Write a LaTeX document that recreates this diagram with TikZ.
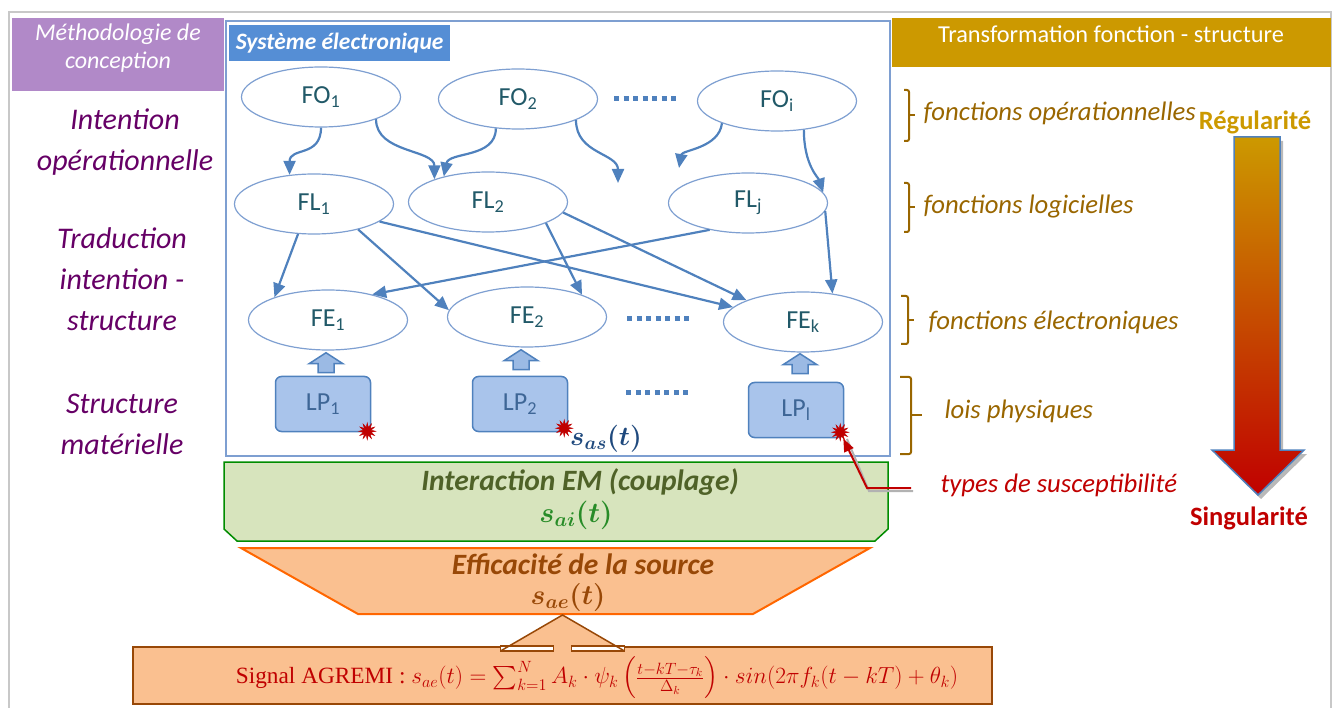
\documentclass[tikz,border=0pt]{standalone}
\usepackage{fix-cm}
\usepackage{amsmath,amssymb,bm}
\usepackage{fontspec}
\setmainfont{Carlito}
\newfontfamily\formfont{Liberation Serif}
\usetikzlibrary{arrows.meta,positioning,calc,shapes.geometric}

\definecolor{purplebox}{RGB}{177,137,200}
\definecolor{intentcol}{RGB}{102,0,102}
\definecolor{sysblue}{RGB}{85,142,213}
\definecolor{ellline}{RGB}{126,159,209}
\definecolor{elltext}{RGB}{33,89,104}
\definecolor{arrblue}{RGB}{79,129,189}
\definecolor{lpfill}{RGB}{169,196,235}
\definecolor{lptext}{RGB}{62,102,150}
\definecolor{goldhead}{RGB}{204,153,0}
\definecolor{fctcol}{RGB}{153,102,0}
\definecolor{singred}{RGB}{192,0,0}
\definecolor{greenfill}{RGB}{215,228,189}
\definecolor{greenline}{RGB}{0,140,0}
\definecolor{greentext}{RGB}{79,98,40}
\definecolor{saigreen}{RGB}{40,140,40}
\definecolor{srcfill}{RGB}{250,192,144}
\definecolor{srcline}{RGB}{255,102,0}
\definecolor{srctext}{RGB}{152,72,7}
\definecolor{sasblue}{RGB}{31,73,125}
\definecolor{framegray}{RGB}{200,200,200}

\begin{document}
\begin{tikzpicture}[x=1pt, y=-1pt,
  fct/.style={ellipse, draw=ellline, line width=1.2pt, minimum width=159pt, minimum height=60pt, inner sep=0pt, text=elltext, font=\fontsize{26}{30}\selectfont},
  lp/.style={draw=arrblue, line width=1.5pt, fill=lpfill, rounded corners=6pt, minimum width=95pt, minimum height=55pt, text=lptext, font=\fontsize{26}{30}\selectfont},
  burst/.style={star, star points=12, star point ratio=2.1, fill=singred, draw=singred, minimum size=17pt, inner sep=0pt},
  arrow/.style={-{Triangle[length=14pt, width=12pt]}, line width=2.2pt, arrblue},
  dots/.style={arrblue, line width=5pt, dash pattern=on 5pt off 4.5pt},
  intent/.style={align=center, text=intentcol, font=\fontsize{30}{41}\selectfont\itshape},
  fctlab/.style={anchor=west, text=fctcol, font=\fontsize{26.7}{30}\selectfont\itshape},
  brk/.style={draw=fctcol, line width=2pt, rounded corners=2pt},
  upblock/.pic={\draw[arrblue, line width=1.5pt, fill=lpfill!85!arrblue] (-8,0) -- (-8,-9) -- (-17,-9) -- (0,-20) -- (17,-9) -- (8,-9) -- (8,0) -- cycle;}
]
\useasboundingbox (0,0) rectangle (1336,708);
\draw[framegray, line width=1.5pt] (9,708) -- (9,12) -- (1331,12) -- (1331,708);

% left column
\fill[purplebox] (12,18) rectangle (224,91);
\node[align=center, text=white, font=\fontsize{24}{28}\selectfont\itshape] (method) at (118,48) {Méthodologie de\\conception};
\node[intent] (intop) at (125,142) {Intention\\opérationnelle};
\node[intent] (trad) at (122,279) {Traduction\\intention -\\structure};
\node[intent] (struct) at (122,424) {Structure\\matérielle};

% systeme electronique
\draw[ellline, line width=1.2pt] (226,21) rectangle (890,456);
\node[anchor=north west, fill=sysblue, text=white, minimum width=221pt, minimum height=36pt, inner xsep=2pt, font=\fontsize{23.5}{26}\selectfont\bfseries\itshape] (sys) at (229,25) {Système électronique};

\node[fct] (FO1) at (321,97) {FO\textsubscript{1}};
\node[fct] (FO2) at (518,99) {FO\textsubscript{2}};
\node[fct] (FOi) at (777,101) {FO\textsubscript{i}};
\node[fct] (FL1) at (314,204) {FL\textsubscript{1}};
\node[fct] (FL2) at (488,202) {FL\textsubscript{2}};
\node[fct] (FLj) at (748,203) {FL\textsubscript{j}};
\node[fct] (FE1) at (328,320) {FE\textsubscript{1}};
\node[fct] (FE2) at (527,317) {FE\textsubscript{2}};
\node[fct] (FEk) at (803,322) {FE\textsubscript{k}};
\node[lp] (LP1) at (323,404) {LP\textsubscript{1}};
\node[lp] (LP2) at (520,404) {LP\textsubscript{2}};
\node[lp] (LPl) at (796,410) {LP\textsubscript{l}};
\coordinate (fo2end) at (618,183);
\coordinate (foiend) at (679,168);

\draw[dots] ($(FO2.east)+(16,0)$) -- ($(FOi.west)+(-18,-2)$);
\draw[dots] ($(FE2.east)+(20,2)$) -- ($(FEk.west)+(-31,-3)$);
\draw[dots] ($(LP2.east)+(58,-11)$) -- ($(LPl.west)+(-57,-17)$);

\draw[arrow] (FO1.south) .. controls +(0,30) and +(0,-28) .. (FL1.130);
\draw[arrow] (FO1.-22) .. controls +(0,34) and +(0,-30) .. (FL2.157);
\draw[arrow] (FO2.-127) .. controls +(0,30) and +(5,-25) .. (FL2.150);
\draw[arrow] (FO2.-20) .. controls +(0,34) and +(0,-30) .. (fo2end);
\draw[arrow] (FOi.-158) .. controls +(-3,25) and +(3,-18) .. (foiend);
\draw[arrow] (FOi.-47) .. controls +(0,35) and +(-5,-15) .. (FLj.8);

\draw[arrow] (FL1.-118) -- (FE1.157);
\draw[arrow] (FL1.-30) -- (FE2.175);
\draw[arrow] (FL1.-15) -- (FEk.168);
\draw[arrow] (FL2.-20) -- (FE2.22);
\draw[arrow] (FL2.-8) -- (FEk.159);
\draw[arrow] (FLj.-145) -- (FE1.30);
\draw[arrow] (FLj.-6) -- (FEk.44);

\pic at ($(LP1.north)+(3,-3)$) {upblock};
\pic at ($(LP2.north)+(1,-6)$) {upblock};
\pic at ($(LPl.north)+(4,-8)$) {upblock};

\node[burst] (burst1) at ($(LP1.south east)+(-4,-1)$) {};
\node[burst] (burst2) at ($(LP2.south east)+(-4,-4)$) {};
\node[burst] (burst3) at ($(LPl.south east)+(-4,-6)$) {};
\node[text=sasblue, inner sep=1pt, font=\fontsize{27}{30}\selectfont] (sas) at (606,439) {$\bm{s_{as}(t)}$};

% right column
\fill[goldhead] (892,18) rectangle (1331,67);
\node[text=white, font=\fontsize{24.3}{28}\selectfont] (transf) at (1111,34) {Transformation fonction - structure};
\node[fctlab] (fop) at (920,113) {fonctions opérationnelles};
\node[fctlab] (flog) at (920,207) {fonctions logicielles};
\node[fctlab] (felec) at (925,322) {fonctions électroniques};
\node[fctlab] (flois) at (941,411) {lois physiques};
\draw[brk] (904,90) -- (909,90) -- (909,141) -- (904,141);
\draw[brk] (909,115) -- (915,115);
\draw[brk] (904,183) -- (909,183) -- (909,232) -- (904,232);
\draw[brk] (909,207) -- (915,207);
\draw[brk] (901,296) -- (908,296) -- (908,344) -- (901,344);
\draw[brk] (908,320) -- (914,320);
\draw[brk] (900,377) -- (911,377) -- (911,454) -- (900,454);
\draw[brk] (911,415) -- (922,415);

\node[text=goldhead, font=\fontsize{26.5}{30}\selectfont\bfseries] (regul) at (1255,122) {Régularité};
\node[text=singred, font=\fontsize{26.5}{30}\selectfont\bfseries] (singul) at (1249,518) {Singularité};
\fill[gray!55] (1237,141) -- (1283,141) -- (1283,454) -- (1307,454) -- (1261,499) -- (1215,454) -- (1237,454) -- cycle;
\shade[top color=goldhead, bottom color=singred] (1234,137) -- (1280,137) -- (1280,450) -- (1304,450) -- (1258,495) -- (1212,450) -- (1234,450) -- cycle;
\draw[arrblue, line width=1.5pt] (1234,137) -- (1280,137) -- (1280,450) -- (1304,450) -- (1258,495) -- (1212,450) -- (1234,450) -- cycle;

% couplage et source
\draw[greenline, line width=1.5pt, fill=greenfill] (224,462) -- (888,462) -- (888,529) -- (875,541) -- (237,541) -- (224,529) -- cycle;
\node[text=greentext, inner sep=1pt, font=\fontsize{29.5}{32}\selectfont\bfseries\itshape] (inter) at (580,482) {Interaction EM (couplage)};
\node[text=saigreen, inner sep=1pt, font=\fontsize{28.5}{32}\selectfont] (sai) at (576,515) {$\bm{s_{ai}(t)}$};

\node[anchor=west, text=singred, font=\fontsize{26.7}{30}\selectfont\itshape] (susc) at (937,485) {types de susceptibilité};
\draw[gray!60, line width=2pt, transform canvas={shift={(2pt,-3pt)}}] ($(susc.west)+(-26,3)$) -- ++(-44,0) -- ++(-22,-52);
\draw[singred, line width=2pt, -{Triangle[length=13pt, width=10pt]}] ($(susc.west)+(-26,3)$) -- ++(-44,0) -- (burst3);

\draw[srcline, line width=2pt, fill=srcfill] (241,548) -- (870,548) -- (753,614) -- (358,614) -- cycle;
\node[text=srctext, inner sep=0pt, font=\fontsize{29.5}{32}\selectfont\bfseries\itshape] (src) at (583,564) {Efficacité de la source};
\node[text=srctext, inner sep=0pt, font=\fontsize{28}{32}\selectfont] (sae) at (568,597) {$\bm{s_{ae}(t)}$};

\node[draw=srctext, line width=2pt, fill=srcfill, minimum width=859pt, minimum height=57pt, inner sep=0pt] (form) at (562.5,675.5) {};
\node[text=singred, inner sep=0pt, font=\fontsize{23.3}{26}\selectfont] (formtxt) at (597,678) {\formfont Signal AGREMI : $s_{ae}(t)=\sum_{k=1}^{N}A_k\cdot\psi_k\left(\frac{t-kT-\tau_k}{\Delta_k}\right)\cdot sin(2\pi f_k(t-kT)+\theta_k)$};

% fleche source
\fill[srcfill] ($(form.north)+(-62,5)$) -- ($(form.north)+(0,-31)$) -- ($(form.north)+(62,5)$) -- cycle;
\draw[srctext, line width=1.5pt, fill=white] ($(form.north)+(-62,0)$) rectangle ($(form.north)+(-9,5)$);
\draw[srctext, line width=1.5pt, fill=white] ($(form.north)+(9,0)$) rectangle ($(form.north)+(62,5)$);
\fill[srcfill] ($(form.north)+(-8,-2)$) rectangle ($(form.north)+(8,6)$);
\draw[srctext, line width=1.5pt] ($(form.north)+(-62,5)$) -- ($(form.north)+(0,-31)$) -- ($(form.north)+(62,5)$);
\end{tikzpicture}
\end{document}
